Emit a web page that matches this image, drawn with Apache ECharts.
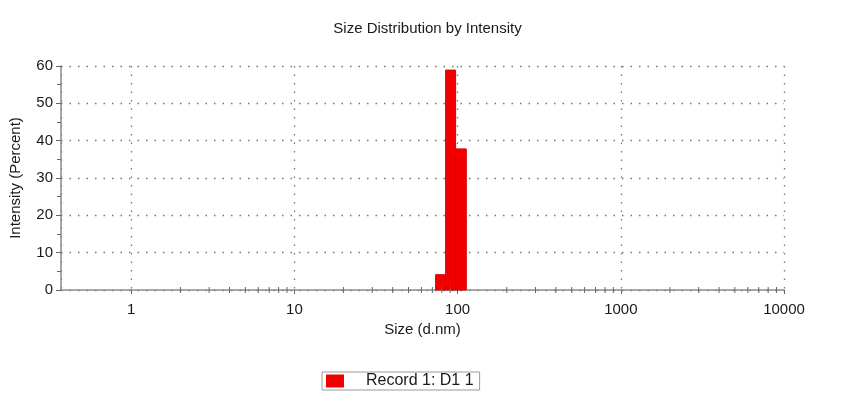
<!DOCTYPE html>
<html>
<head>
<meta charset="utf-8">
<script src="https://cdn.jsdelivr.net/npm/echarts@6/dist/echarts.min.js"></script>
<style>html,body{margin:0;padding:0;background:#fff;}#c{width:855px;height:396px;}</style>
</head>
<body>
<div id="c"></div>
<script>
// Data
var binStart = [73.3, 84.4, 97.2];
var binEnd   = [84.4, 97.2, 113.0];
var intensity = [4.1, 58.9, 37.8];
var seriesName = 'Record 1: D1 1';
var yTicks = [0, 10, 20, 30, 40, 50, 60];
var xTickLabels = [1, 10, 100, 1000, 10000];
var xMinorTicks = [2, 3, 4, 5, 6, 7, 8, 9,
                   20, 30, 40, 50, 60, 70, 80, 90,
                   200, 300, 400, 500, 600, 700, 800, 900,
                   2000, 3000, 4000, 5000, 6000, 7000, 8000, 9000];

var barData = binStart.map(function (s, i) { return [s, binEnd[i], intensity[i]]; });
var font = 'Liberation Sans, Arial, sans-serif';

var chart = echarts.init(document.getElementById('c'));
chart.setOption({
  animation: false,
  backgroundColor: '#fff',
  title: {
    text: 'Size Distribution by Intensity',
    left: 'center',
    top: 16,
    textStyle: { fontFamily: font, fontSize: 15, fontWeight: 'normal', color: '#1a1a1a' }
  },
  legend: {
    data: [seriesName],
    left: 322,
    top: 372,
    icon: 'rect',
    itemWidth: 18,
    itemHeight: 13,
    borderWidth: 1,
    borderColor: '#999',
    padding: [1, 6, 1, 4],
    itemGap: 10,
    textStyle: { fontFamily: font, fontSize: 16, color: '#1a1a1a', padding: [0, 0, 0, 17] }
  },
  grid: { left: 61, right: 71, top: 66, bottom: 106, containLabel: false },
  xAxis: {
    type: 'log',
    logBase: 10,
    min: 0.371,
    max: 10000,
    name: 'Size (d.nm)',
    nameLocation: 'middle',
    nameGap: 31,
    nameTextStyle: { fontFamily: font, fontSize: 15, color: '#1a1a1a' },
    axisLine: { show: true, lineStyle: { color: '#8a8a8a', width: 1.5 } },
    axisTick: { show: true, inside: false, length: 4, lineStyle: { color: '#666' } },
    axisLabel: {
      showMinLabel: false,
      margin: 12,
      fontFamily: font, fontSize: 15, color: '#1a1a1a',
      formatter: function (v) {
        var r = Math.round(v);
        return xTickLabels.indexOf(r) >= 0 ? String(r) : '';
      }
    },
    splitLine: { show: true, lineStyle: { color: '#777', width: 1.3, type: [1.5, 7] } }
  },
  yAxis: {
    type: 'value',
    min: 0,
    max: 60,
    interval: 10,
    name: 'Intensity (Percent)',
    nameLocation: 'middle',
    nameGap: 38,
    nameTextStyle: { fontFamily: font, fontSize: 15, color: '#1a1a1a' },
    axisLine: { show: true, lineStyle: { color: '#8a8a8a', width: 1.5 } },
    axisTick: { show: true, length: 5, lineStyle: { color: '#666' } },
    minorTick: { show: true, splitNumber: 2, length: 4, lineStyle: { color: '#666' } },
    axisLabel: {
      margin: 8, fontFamily: font, fontSize: 15, color: '#1a1a1a',
      formatter: function (v) { return yTicks.indexOf(v) >= 0 ? String(v) : ''; }
    },
    splitLine: { show: true, lineStyle: { color: '#777', width: 1.3, type: [1.5, 7] } }
  },
  series: [
    {
      name: seriesName,
      type: 'custom',
      itemStyle: { color: '#f20000' },
      encode: { x: [0, 1], y: 2 },
      data: barData,
      renderItem: function (params, api) {
        var p1 = api.coord([api.value(0), api.value(2)]);
        var p2 = api.coord([api.value(1), 0]);
        return {
          type: 'rect',
          shape: { x: p1[0], y: p1[1], width: p2[0] - p1[0], height: p2[1] - p1[1] },
          style: { fill: '#f20000', stroke: '#d80000', lineWidth: 1 }
        };
      },
      z: 3
    },
    {
      name: 'minorTicks',
      type: 'custom',
      silent: true,
      encode: { x: 0, y: 1 },
      data: xMinorTicks.map(function (v) { return [v, 0]; }),
      renderItem: function (params, api) {
        var p = api.coord([api.value(0), 0]);
        return {
          type: 'line',
          shape: { x1: p[0], y1: p[1] - 3, x2: p[0], y2: p[1] + 3 },
          style: { stroke: '#666', lineWidth: 1 }
        };
      },
      z: 4
    }
  ]
});
</script>
</body>
</html>
